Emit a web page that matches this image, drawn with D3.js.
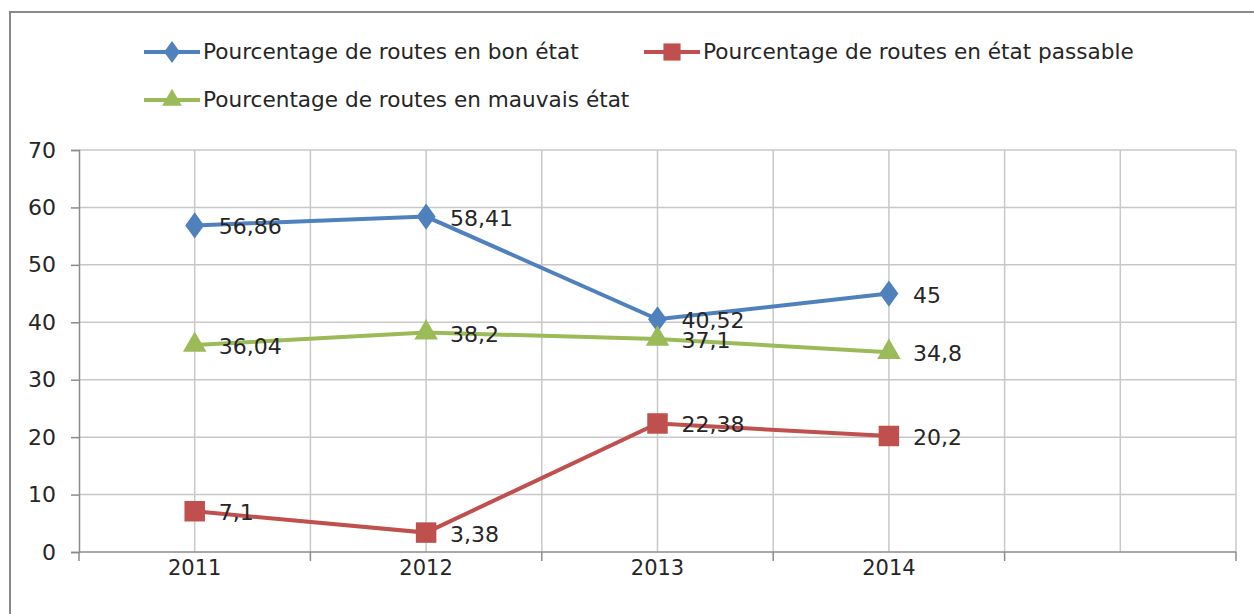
<!DOCTYPE html>
<html>
<head>
<meta charset="utf-8">
<script src="https://cdn.jsdelivr.net/npm/d3@7"></script>
<style>
  body { margin: 0; background: #fff; }
  svg text { font-family: "DejaVu Sans", sans-serif; fill: #262626; }
</style>
</head>
<body>
<div class="chart"></div>
<script>
// categories (last one is empty, like in the original sheet)
var years = ["2011", "2012", "2013", "2014", " "];
var bonEtat = [56.86, 58.41, 40.52, 45];
var passable = [7.1, 3.38, 22.38, 20.2];
var mauvais = [36.04, 38.2, 37.1, 34.8];
var yTicks = [0, 10, 20, 30, 40, 50, 60, 70];
var seriesNames = [
  "Pourcentage de routes en bon état",
  "Pourcentage de routes en état passable",
  "Pourcentage de routes en mauvais état"
];

(function(){
  var W = 1254, H = 614;
  var svg = d3.select(".chart").append("svg")
    .attr("width", W).attr("height", H);

  // outer chart frame
  svg.append("rect")
    .attr("x", 10).attr("y", 12)
    .attr("width", W + 20).attr("height", H + 20)
    .attr("fill", "#fff").attr("stroke", "#898989").attr("stroke-width", 2);

  var x = d3.scaleBand().domain(years).range([79, 1236]);
  var y = d3.scaleLinear().domain([0, 70]).range([552, 150]);
  var bw = x.bandwidth();
  var cx = function(i){ return x(years[i]) + bw / 2; };

  // grid: verticals on band edges and band centres
  var vx = [];
  years.forEach(function(c){ vx.push(x(c)); vx.push(x(c) + bw / 2); });
  vx.push(x.range()[1]);
  svg.append("g").selectAll("line").data(vx.slice(1)).enter().append("line")
    .attr("x1", function(d){ return d; }).attr("x2", function(d){ return d; })
    .attr("y1", y(70)).attr("y2", y(0))
    .attr("stroke", "#c8c8c8").attr("stroke-width", 1.5);
  svg.append("g").selectAll("line").data(yTicks.slice(1)).enter().append("line")
    .attr("x1", 79).attr("x2", 1236)
    .attr("y1", function(d){ return y(d); }).attr("y2", function(d){ return y(d); })
    .attr("stroke", "#c8c8c8").attr("stroke-width", 1.5);

  // y axis
  var yAxis = svg.append("g").attr("transform", "translate(79,0)")
    .call(d3.axisLeft(y).tickValues(yTicks).tickSize(8).tickPadding(15));
  yAxis.selectAll("line, path").attr("stroke", "#8c8c8c").attr("stroke-width", 1.5);
  yAxis.selectAll("text").style("font-size", "22px")
    .style("font-family", "DejaVu Sans, sans-serif").attr("fill", "#262626");

  // x axis: ticks between categories
  var xAxis = svg.append("g").attr("transform", "translate(0,552)");
  xAxis.append("line").attr("x1", 79).attr("x2", 1236)
    .attr("stroke", "#8c8c8c").attr("stroke-width", 1.5);
  var edges = years.map(function(c){ return x(c); }).concat([1236]);
  xAxis.selectAll(".tk").data(edges).enter().append("line")
    .attr("x1", function(d){ return d; }).attr("x2", function(d){ return d; })
    .attr("y1", 0).attr("y2", 9)
    .attr("stroke", "#8c8c8c").attr("stroke-width", 1.5);
  xAxis.selectAll("text").data(years).enter().append("text")
    .attr("x", function(d, i){ return cx(i); }).attr("y", 23)
    .attr("text-anchor", "middle")
    .style("font-size", "21px")
    .text(function(d){ return d; });

  var series = [
    { name: seriesNames[0], values: bonEtat, color: "#4f81bd", sym: d3.symbolDiamond, size: 200 },
    { name: seriesNames[1], values: passable, color: "#c0504d", sym: d3.symbolSquare, size: 420 },
    { name: seriesNames[2], values: mauvais, color: "#9bbb59", sym: d3.symbolTriangle, size: 240 }
  ];

  var line = d3.line()
    .x(function(d, i){ return cx(i); })
    .y(function(d){ return y(d); });

  var fmt = function(v){ return String(v).replace(".", ","); };

  series.forEach(function(s){
    var g = svg.append("g");
    g.append("path").attr("d", line(s.values))
      .attr("fill", "none").attr("stroke", s.color).attr("stroke-width", 4);
    g.selectAll("path.m").data(s.values).enter().append("path")
      .attr("class", "m")
      .attr("d", d3.symbol().type(s.sym).size(s.size))
      .attr("transform", function(d, i){
        return "translate(" + cx(i) + "," + y(d) + ")" + (s.sym == d3.symbolDiamond ? " scale(1.25,1)" : "");
      })
      .attr("fill", s.color);
    g.selectAll("text").data(s.values).enter().append("text")
      .attr("x", function(d, i){ return cx(i) + 24; })
      .attr("y", function(d){ return y(d) + 3; })
      .attr("dominant-baseline", "middle")
      .style("font-size", "22px")
      .text(fmt);
  });

  // legend
  var legendPos = [[144, 52], [644, 52], [144, 100]];
  series.forEach(function(s, i){
    var p = legendPos[i];
    var lg = svg.append("g").attr("transform", "translate(" + p[0] + "," + p[1] + ")");
    lg.append("line").attr("x1", 0).attr("x2", 56)
      .attr("stroke", s.color).attr("stroke-width", 4);
    lg.append("path")
      .attr("d", d3.symbol().type(s.sym).size(s.size * 0.7))
      .attr("transform", "translate(28,0)" + (s.sym == d3.symbolDiamond ? " scale(1.25,1)" : ""))
      .attr("fill", s.color);
    lg.append("text").attr("x", 59).attr("y", 1)
      .attr("dominant-baseline", "middle")
      .style("font-size", "21.6px")
      .text(s.name);
  });
})();
</script>
</body>
</html>
